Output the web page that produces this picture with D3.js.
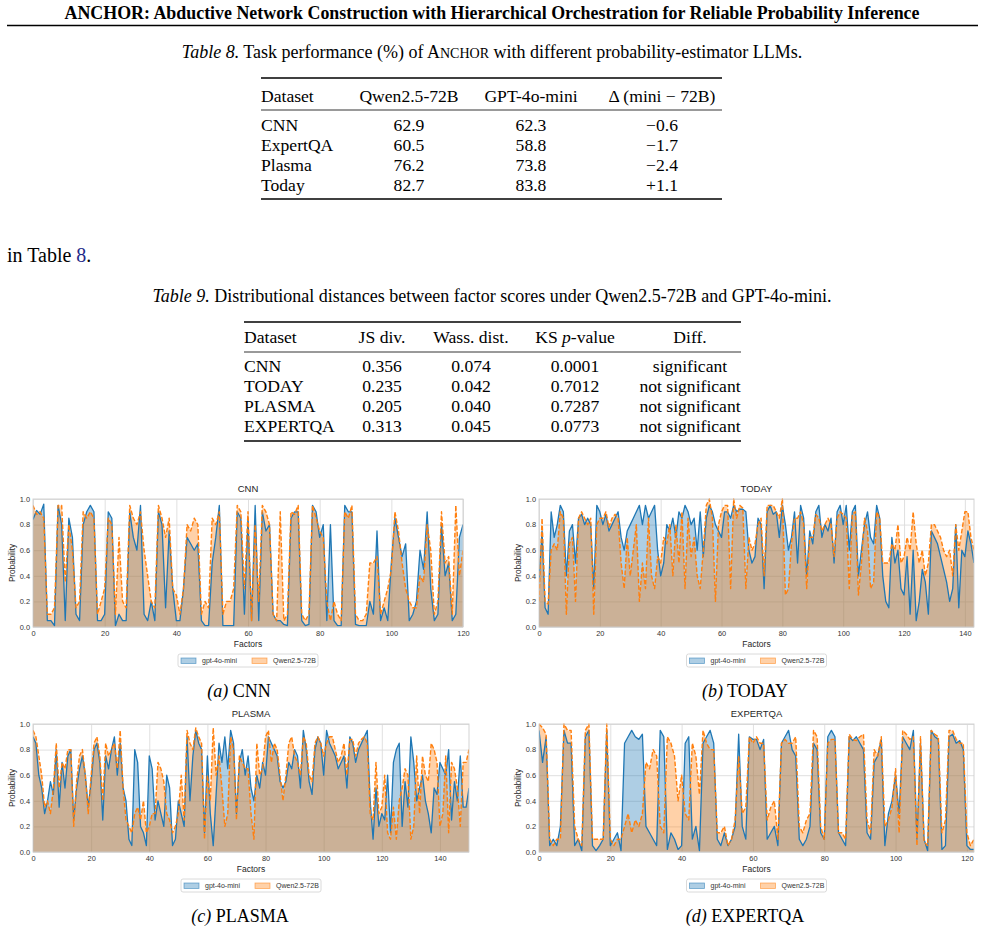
<!DOCTYPE html>
<html>
<head>
<meta charset="utf-8">
<script src="https://cdn.jsdelivr.net/npm/d3@7"></script>
<style>
  body { margin: 0; background: #fff; }
  svg { display: block; }
</style>
</head>
<body>
<div id="page"></div>
<script>
// ---- table 8 data ----
const t8Datasets = ['CNN', 'ExpertQA', 'Plasma', 'Today'];
const t8Qwen = [62.9, 60.5, 76.2, 82.7];
const t8Gpt = [62.3, 58.8, 73.8, 83.8];
const t8Delta = [-0.6, -1.7, -2.4, 1.1];

// ---- table 9 data ----
const t9Datasets = ['CNN', 'TODAY', 'PLASMA', 'EXPERTQA'];
const t9JS = [0.356, 0.235, 0.205, 0.313];
const t9Wass = [0.074, 0.042, 0.040, 0.045];
const t9KS = [0.0001, 0.7012, 0.7287, 0.0773];
const t9Diff = ['significant', 'not significant', 'not significant', 'not significant'];

// ---- factor probabilities ----
const cnnGpt = [.84,.91,.88,.96,.05,.05,.01,.95,.80,.05, .85,.70,.10,.05,.80,.90,.95,.90,.05,.05,
  .10,.90,.85,.01,.10,.05,.05,.90,.70,.60, .95,.10,.05,.20,.05,.90,.80,.15,.75,.30,
  .05,.05,.30,.70,.65,.60,.65,.05,.01,.01, .50,.70,.95,.01,.01,.01,.01,.90,.85,.10,
  .85,.05,.95,.05,.90,.75,.80,.10,.05,.05, .02,.01,.85,.90,.90,.05,.01,.02,.95,.90,
  .70,.80,.05,.80,.05,.01,.01,.95,.90,.90, .02,.01,.01,.01,.20,.10,.75,.05,.15,.05,
  .50,.85,.70,.55,.65,.05,.10,.20,.60,.45, .90,.30,.05,.10,.80,.40,.50,.05,.10,.70, .80];
const cnnQwen = [.95,.88,.90,.85,.10,.10,.15,.95,.95,.35, .80,.60,.15,.20,.90,.85,.90,.85,.10,.20,
  .30,.85,.80,.10,.70,.20,.15,.95,.85,.80, .90,.60,.40,.20,.15,.95,.85,.70,.85,.30,
  .25,.10,.30,.80,.75,.85,.80,.10,.20,.15, .85,.80,.90,.10,.20,.20,.30,.95,.90,.30,
  .90,.05,.80,.20,.95,.90,.80,.10,.05,.90, .05,.10,.90,.88,.95,.10,.05,.10,.95,.85,
  .75,.70,.20,.05,.20,.10,.05,.90,.85,.95, .10,.05,.05,.10,.50,.50,.55,.10,.20,.30,
  .45,.90,.75,.50,.30,.20,.15,.15,.40,.35, .80,.60,.10,.20,.90,.50,.55,.10,.95,.40, .60];

const todayGpt = [.35,.75,.15,.10,.90,.70,.80,.95,.90,.40, .75,.80,.50,.85,.88,.80,.85,.80,.30,.95,
  .90,.80,.88,.75,.80,.85,.90,.70,.60,.75, .80,.85,.90,.95,.80,.95,.85,.90,.95,.60,
  .40,.50,.80,.75,.85,.70,.90,.85,.95,.90, .80,.85,.60,.90,.55,.85,.95,.90,.80,.75,
  .70,.90,.90,.85,.95,.90,.92,.92,.90,.60, .50,.55,.85,.80,.30,.90,.95,.88,.90,.70,
  .95,.80,.60,.70,.90,.50,.95,.85,.40,.75, .65,.90,.95,.70,.80,.75,.85,.50,.90,.95,
  .80,.95,.60,.90,.95,.40,.60,.80,.90,.70, .65,.95,.85,.40,.20,.15,.70,.50,.60,.30,
  .25,.55,.10,.60,.05,.20,.45,.35,.10,.75, .70,.65,.55,.45,.35,.20,.30,.80,.15,.60,
  .55,.75,.65,.50];
const todayQwen = [.20,.85,.20,.18,.60,.65,.60,.90,.85,.10, .65,.70,.20,.85,.90,.85,.80,.85,.10,.80,
  .85,.85,.90,.78,.85,.88,.85,.50,.30,.70, .40,.60,.80,.20,.50,.30,.85,.40,.30,.55,
  .50,.70,.65,.80,.40,.80,.50,.90,.30,.85, .55,.70,.40,.30,.60,.95,1.0,.85,.20,.80,
  .90,.95,.95,.30,1.0,.85,.95,.93,.30,.70, .60,.65,.80,.85,.40,.95,.95,.95,.90,.85,
  1.0,.25,.30,.65,.85,.85,.90,.80,.30,.70, .70,.88,.85,.75,.80,.85,.80,.55,.85,.90,
  .88,.85,.30,.88,.90,.25,.50,.85,.75,.30, .35,.90,.85,.50,.50,.50,.65,.60,.80,.50,
  .55,.70,.60,.90,.65,.50,.60,.40,.50,.80, .80,.75,.70,.60,.55,.60,.40,.80,.60,.75,
  .90,.90,.70,.60];

const plasmaGpt = [.90,.85,.60,.50,.30,.40,.55,.45,.80,.35, .70,.50,.75,.80,.25,.50,.65,.75,.60,.35,
  .55,.80,.85,.70,.25,.75,.65,.80,.90,.60, .85,.50,.40,.10,.05,.80,.70,.20,.15,.05,
  .75,.65,.25,.40,.30,.20,.60,.50,.05,.10, .40,.30,.20,.90,.40,.75,.95,.85,.80,.15,
  .75,.30,.05,.45,.85,.70,.90,.65,.95,.85, .30,.70,.80,.60,.75,.50,.40,.60,.50,.70,
  .60,.90,.85,.80,.75,.55,.50,.55,.70,.65, .80,.75,.50,.95,.80,.55,.45,.80,.90,.85,
  .60,.95,.85,.80,.75,.65,.70,.75,.50,.90, .85,.70,.80,.85,.90,.95,.40,.10,.50,.20,
  .30,.25,.60,.15,.70,.80,.85,.20,.55,.35, .90,.70,.40,.50,.60,.40,.30,.15,.50,.45,
  .70,.65,.60,.80,.25,.55,.40,.75,.35,.35, .50];
const plasmaQwen = [.95,.90,.75,.60,.35,.40,.30,.50,.85,.50, .70,.65,.80,.80,.20,.55,.75,.80,.60,.30,
  .60,.85,.90,.75,.40,.85,.75,.80,.85,.65, .95,.50,.25,.20,.15,.30,.35,.25,.40,.15,
  .20,.30,.30,.70,.65,.55,.30,.25,.15,.20, .30,.60,.25,.95,.85,.80,.97,.90,.85,.10,
  .60,.40,.97,.60,.75,.50,.20,.30,.90,.80, .25,.75,.70,.65,.65,.30,.10,.85,.60,.65,
  .90,.95,.70,.85,.80,.60,.40,.60,.85,.90, .75,.70,.60,.90,.85,.60,.55,.85,.90,.85,
  .75,.85,.90,.90,.80,.70,.75,.85,.60,.88, .88,.75,.85,.88,.90,.85,.30,.25,.70,.30,
  .35,.60,.15,.10,.35,.10,.40,.50,.65,.60, .10,.20,.75,.30,.75,.60,.55,.85,.80,.70,
  .20,.30,.75,.15,.70,.65,.50,.20,.70,.70, .80];

const expertGpt = [.95,.70,.90,.05,.10,.05,.20,.95,.85,.85, .05,.10,.01,.90,.95,.05,.01,.05,.10,.95,
  .05,.10,.15,.01,.85,.90,.95,.90,.88,.92, .20,.15,.10,.05,.95,.90,.02,.15,.10,.02,
  .05,.85,.90,.10,.20,.01,.85,.90,.95,.85, .10,.05,.15,.05,.10,.20,.92,.20,.10,.90,
  .88,.88,.80,.88,.10,.15,.20,.05,.85,.90, .95,.80,.75,.10,.05,.10,.20,.85,.80,.15,
  .10,.90,.95,.90,.15,.10,.05,.90,.87,.90, .85,.80,.15,.10,.70,.75,.88,.05,.30,.40,
  .60,.30,.90,.85,.80,.95,.10,.85,.10,.01, .95,.90,.88,.02,.05,.90,.92,.85,.87,.80,
  .05,.02,.02];
const expertQwen = [1.0,.97,.92,.10,.05,.10,.10,1.0,.95,.95, .20,.10,.05,.95,1.0,.10,.10,.10,.10,1.0,
  .10,.05,.10,.10,.20,.30,.15,.25,.20,.30, .70,.65,.80,.75,.20,.15,.90,.85,.75,.40,
  .60,.30,.25,.85,.75,.45,.95,.85,.80,.80, .15,.15,.20,.05,.10,.25,.75,.30,.35,.90,
  .85,.90,.85,.85,.25,.35,.40,.10,.85,.88, .85,.85,.90,.20,.15,.25,.30,.95,.90,.20,
  .10,.85,.88,.88,.15,.15,.10,.92,.88,.87, .90,.92,.25,.15,.80,.75,.90,.20,.25,.35,
  .65,.15,.95,.92,.88,.90,.05,.90,.08,.05, .95,.92,.90,.15,.25,.95,.95,.88,.85,.85,
  .15,.05,.10];

const seriesNames = ['gpt-4o-mini', 'Qwen2.5-72B'];
const seriesColors = ['#1f77b4', '#ff7f0e'];
const probTicks = [0, 0.2, 0.4, 0.6, 0.8, 1.0];

const serif = "'Liberation Serif', 'Times New Roman', serif";
const sans = "'Liberation Sans', Arial, sans-serif";
const capSize = 18, tabSize = 17.6, bodySize = 20;

const svg = d3.select('#page').append('svg')
  .attr('width', 985).attr('height', 944)
  .style('font-family', serif);

// ---- running header ----
svg.append('text')
  .attr('x', 492).attr('y', 19)
  .attr('text-anchor', 'middle')
  .attr('font-size', 17.9).attr('font-weight', 'bold')
  .text('ANCHOR: Abductive Network Construction with Hierarchical Orchestration for Reliable Probability Inference');
svg.append('line').attr('x1', 7).attr('x2', 978).attr('y1', 25.5).attr('y2', 25.5)
  .attr('stroke', '#000').attr('stroke-width', 1.6);

// ---- table 8 ----
const cap8 = svg.append('text').attr('x', 492).attr('y', 58).attr('text-anchor', 'middle').attr('font-size', capSize);
cap8.append('tspan').attr('font-style', 'italic').text('Table 8.');
cap8.append('tspan').text(' Task performance (%) of A');
cap8.append('tspan').attr('font-size', capSize * 0.78).text('NCHOR');
cap8.append('tspan').text(' with different probability-estimator LLMs.');

function rule(x1, x2, y, w) {
  svg.append('line').attr('x1', x1).attr('x2', x2).attr('y1', y).attr('y2', y)
    .attr('stroke', '#000').attr('stroke-width', w);
}

const fmt1 = d3.format('.1f');
const signed = v => (v < 0 ? '\u2212' : '+') + fmt1(Math.abs(v));

const t8Cols = [
  { x: 261, anchor: 'start', head: 'Dataset', vals: t8Datasets },
  { x: 409, anchor: 'middle', head: 'Qwen2.5-72B', vals: t8Qwen.map(fmt1) },
  { x: 531, anchor: 'middle', head: 'GPT-4o-mini', vals: t8Gpt.map(fmt1) },
  { x: 662, anchor: 'middle', head: '\u0394 (mini \u2212 72B)', vals: t8Delta.map(signed) }
];
rule(261, 722, 78, 1.3);
rule(261, 722, 110, 0.8);
rule(261, 722, 199, 1.3);
t8Cols.forEach(c => {
  svg.append('text').attr('x', c.x).attr('y', 102).attr('text-anchor', c.anchor)
    .attr('font-size', tabSize).text(c.head);
  svg.selectAll(null).data(c.vals).join('text')
    .attr('x', c.x).attr('y', (d, i) => 130.5 + i * 20)
    .attr('text-anchor', c.anchor).attr('font-size', tabSize)
    .text(d => d);
});

// ---- body line ----
const bodyLine = svg.append('text').attr('x', 7).attr('y', 262).attr('font-size', bodySize);
bodyLine.append('tspan').text('in Table ');
bodyLine.append('tspan').attr('fill', '#1f2a8a').text('8');
bodyLine.append('tspan').text('.');

// ---- table 9 ----
const cap9 = svg.append('text').attr('x', 492).attr('y', 302).attr('text-anchor', 'middle').attr('font-size', capSize);
cap9.append('tspan').attr('font-style', 'italic').text('Table 9.');
cap9.append('tspan').text(' Distributional distances between factor scores under Qwen2.5-72B and GPT-4o-mini.');

const fmt3 = d3.format('.3f'), fmt4 = d3.format('.4f');
const t9Cols = [
  { x: 244, anchor: 'start', head: 'Dataset', vals: t9Datasets },
  { x: 382, anchor: 'middle', head: 'JS div.', vals: t9JS.map(fmt3) },
  { x: 471, anchor: 'middle', head: 'Wass. dist.', vals: t9Wass.map(fmt3) },
  { x: 575, anchor: 'middle', head: null, vals: t9KS.map(fmt4) },
  { x: 690, anchor: 'middle', head: 'Diff.', vals: t9Diff }
];
rule(244, 741, 322, 1.3);
rule(244, 741, 352, 0.8);
rule(244, 741, 441, 1.3);
t9Cols.forEach(c => {
  if (c.head) {
    svg.append('text').attr('x', c.x).attr('y', 343).attr('text-anchor', c.anchor)
      .attr('font-size', tabSize).text(c.head);
  } else {
    const h = svg.append('text').attr('x', c.x).attr('y', 343).attr('text-anchor', 'middle').attr('font-size', tabSize);
    h.append('tspan').text('KS ');
    h.append('tspan').attr('font-style', 'italic').text('p');
    h.append('tspan').text('-value');
  }
  svg.selectAll(null).data(c.vals).join('text')
    .attr('x', c.x).attr('y', (d, i) => 372 + i * 20)
    .attr('text-anchor', c.anchor).attr('font-size', tabSize)
    .text(d => d);
});

// ---- the four panels ----
const panels = [
  { title: 'CNN', letter: '(a)', gpt: cnnGpt, qwen: cnnQwen, xMax: 120, xTicks: d3.range(0, 121, 20),
    left: 33, right: 463, top: 499, bottom: 627, capX: 239, capY: 697 },
  { title: 'TODAY', letter: '(b)', gpt: todayGpt, qwen: todayQwen, xMax: 143, xTicks: d3.range(0, 141, 20),
    left: 539, right: 974, top: 499, bottom: 627, capX: 745, capY: 697 },
  { title: 'PLASMA', letter: '(c)', gpt: plasmaGpt, qwen: plasmaQwen, xMax: 150, xTicks: d3.range(0, 141, 20),
    left: 33, right: 469, top: 724, bottom: 852, capX: 240, capY: 922 },
  { title: 'EXPERTQA', letter: '(d)', gpt: expertGpt, qwen: expertQwen, xMax: 122, xTicks: d3.range(0, 121, 20),
    left: 539, right: 974, top: 724, bottom: 852, capX: 745, capY: 922 }
];

panels.forEach((p, k) => drawPanel(p, k));

function drawPanel(p, k) {
  const g = svg.append('g').style('font-family', sans);
  const x = d3.scaleLinear().domain([0, p.xMax]).range([p.left, p.right]);
  const y = d3.scaleLinear().domain([0, 1]).range([p.bottom, p.top]);
  const w = p.right - p.left, h = p.bottom - p.top;

  // grid
  const gx = g.append('g').attr('transform', `translate(0,${p.bottom})`)
    .call(d3.axisBottom(x).tickValues(p.xTicks).tickSize(-h).tickFormat(''));
  const gy = g.append('g').attr('transform', `translate(${p.left},0)`)
    .call(d3.axisLeft(y).tickValues(probTicks).tickSize(-w).tickFormat(''));
  [gx, gy].forEach(a => {
    a.select('.domain').remove();
    a.selectAll('line').attr('stroke', '#dcdcdc').attr('stroke-width', 0.9);
  });

  const clipId = 'clip' + k;
  g.append('clipPath').attr('id', clipId).append('rect')
    .attr('x', p.left).attr('y', p.top - 2).attr('width', w).attr('height', h + 2);

  const plot = g.append('g').attr('clip-path', `url(#${clipId})`);
  const area = d3.area().x((d, i) => x(i)).y0(y(0)).y1(d => y(d));
  const line = d3.line().x((d, i) => x(i)).y(d => y(d));

  [p.gpt, p.qwen].forEach((s, j) => {
    plot.append('path').datum(s).attr('d', area)
      .attr('fill', seriesColors[j]).attr('fill-opacity', 0.36);
  });
  plot.append('path').datum(p.gpt).attr('d', line)
    .attr('fill', 'none').attr('stroke', seriesColors[0]).attr('stroke-width', 1.3)
    .attr('stroke-linejoin', 'round');
  plot.append('path').datum(p.qwen).attr('d', line)
    .attr('fill', 'none').attr('stroke', seriesColors[1]).attr('stroke-width', 1.4)
    .attr('stroke-dasharray', '4.5,2').attr('stroke-linejoin', 'round');

  // frame
  g.append('rect').attr('x', p.left).attr('y', p.top).attr('width', w).attr('height', h)
    .attr('fill', 'none').attr('stroke', '#cfcfcf').attr('stroke-width', 0.9);

  // tick labels
  const ax = g.append('g').attr('transform', `translate(0,${p.bottom})`)
    .call(d3.axisBottom(x).tickValues(p.xTicks).tickSize(0).tickPadding(4));
  const ay = g.append('g').attr('transform', `translate(${p.left},0)`)
    .call(d3.axisLeft(y).tickValues(probTicks).tickSize(0).tickPadding(3).tickFormat(d3.format('.1f')));
  [ax, ay].forEach(a => {
    a.select('.domain').remove();
    a.selectAll('text').attr('font-size', 7.4).attr('fill', '#333').style('font-family', sans);
  });

  // labels
  g.append('text').attr('x', (p.left + p.right) / 2).attr('y', p.top - 7)
    .attr('text-anchor', 'middle').attr('font-size', 9.5).attr('fill', '#262626').text(p.title);
  g.append('text').attr('x', (p.left + p.right) / 2).attr('y', p.bottom + 19.5)
    .attr('text-anchor', 'middle').attr('font-size', 8.5).attr('fill', '#262626').text('Factors');
  g.append('text')
    .attr('transform', `translate(${p.left - 18},${(p.top + p.bottom) / 2}) rotate(-90)`)
    .attr('text-anchor', 'middle').attr('font-size', 8.2).attr('fill', '#262626').text('Probability');

  // legend
  const lx = (p.left + p.right) / 2 - 70, ly = p.bottom + 27;
  const lg = g.append('g').attr('transform', `translate(${lx},${ly})`);
  lg.append('rect').attr('width', 140).attr('height', 13).attr('rx', 2)
    .attr('fill', '#fff').attr('stroke', '#d0d0d0').attr('stroke-width', 0.8);
  const items = lg.selectAll('g.item').data(seriesNames).join('g')
    .attr('transform', (d, i) => `translate(${3 + i * 71},0)`);
  items.append('rect').attr('y', 4).attr('width', 15).attr('height', 5.5)
    .attr('fill', (d, i) => seriesColors[i]).attr('fill-opacity', 0.36)
    .attr('stroke', (d, i) => seriesColors[i]).attr('stroke-opacity', 0.6).attr('stroke-width', 0.8);
  items.append('text').attr('x', 21).attr('y', 9.3).attr('font-size', 7).attr('fill', '#333')
    .text(d => d);

  // sub-caption
  const cap = svg.append('text').attr('x', p.capX).attr('y', p.capY)
    .attr('text-anchor', 'middle').attr('font-size', capSize);
  cap.append('tspan').attr('font-style', 'italic').text(p.letter);
  cap.append('tspan').text(' ' + p.title);
}
</script>
</body>
</html>
